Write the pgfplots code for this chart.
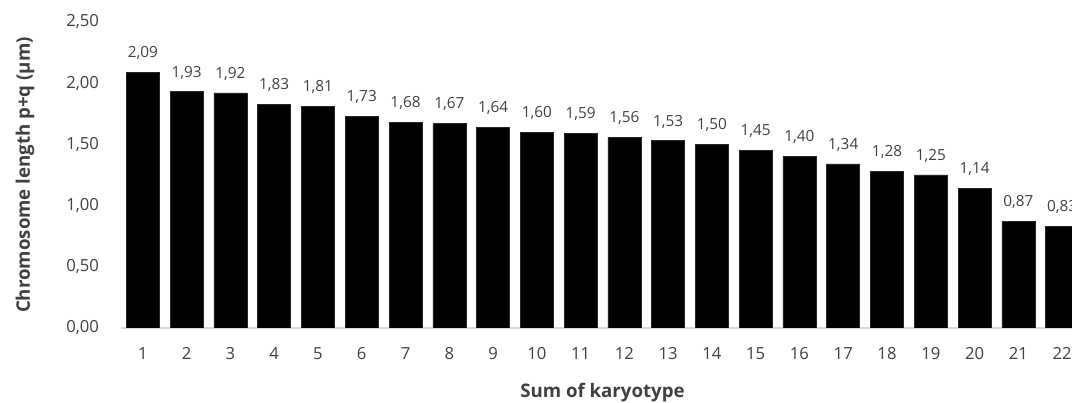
\documentclass[border=0pt]{standalone}
\usepackage{pgfplots}
\pgfplotsset{compat=1.18}
\usepackage{fontspec}
\setmainfont{Open Sans}
\definecolor{txt}{HTML}{404040}
\definecolor{axline}{HTML}{D9D9D9}
\begin{document}
\begin{tikzpicture}
\useasboundingbox (-90.75pt,-56.25pt) rectangle (713.25pt,246pt);
\clip (-90.75pt,-56.25pt) rectangle (713.25pt,246pt);
\begin{axis}[
    at={(0,0)}, anchor=south west,
    scale only axis,
    width=722.25pt, height=229.5pt,
    ybar, bar width=24.75pt,
    xmin=0.5, xmax=22.5,
    ymin=0, ymax=2.5,
    xtick={1,...,22},
    ytick={0,0.5,1,1.5,2,2.5},
    axis x line*=bottom,
    axis y line*=left,
    x axis line style={draw=axline, line width=0.8pt, -},
    y axis line style={draw=none, -},
    major tick length=0pt,
    tick label style={font=\fontsize{12.5}{14}\selectfont, text=txt},
    /pgf/number format/assume math mode=true,
    yticklabel={\pgfmathprintnumber[fixed, fixed zerofill, precision=2, use comma]{\tick}},
    yticklabel style={anchor=east, xshift=-13pt},
    xticklabel style={yshift=-11pt},
    every axis y label/.style={at={(axis description cs:-0.0997,0.5)}, rotate=90, anchor=center},
    every axis x label/.style={at={(axis description cs:0.5,-0.21)}, anchor=center},
    label style={font=\bfseries\fontsize{14}{16}\selectfont, text=txt},
    xlabel={Sum of karyotype},
    ylabel={Chromosome length  p+q (µm)},
    nodes near coords,
    nodes near coords style={font=\fontsize{11.5}{13}\selectfont, text=txt, yshift=6pt,
        /pgf/number format/.cd, fixed, fixed zerofill, precision=2, use comma, assume math mode=true},
]
\addplot[fill=black, draw=black!85] coordinates {
    (1,2.09) (2,1.93) (3,1.92) (4,1.83) (5,1.81) (6,1.73) (7,1.68) (8,1.67)
    (9,1.64) (10,1.60) (11,1.59) (12,1.56) (13,1.53) (14,1.50) (15,1.45)
    (16,1.40) (17,1.34) (18,1.28) (19,1.25) (20,1.14) (21,0.87) (22,0.83)
};
\end{axis}
\end{tikzpicture}
\end{document}
